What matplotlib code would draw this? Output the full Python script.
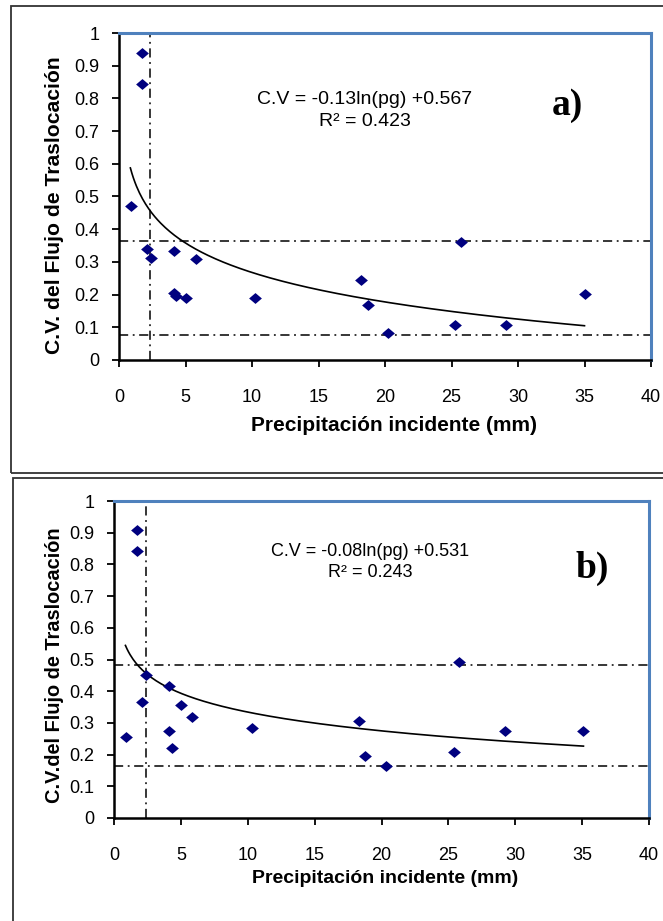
import numpy as np
import matplotlib
matplotlib.use('Agg')
import matplotlib.pyplot as plt
from matplotlib.patches import Rectangle

plt.rcParams['font.family'] = ['Liberation Sans', 'DejaVu Sans']

# panel a) - precipitation (mm) vs C.V.
pg_a = [0.9, 1.7, 1.7, 2.1, 2.4, 4.1, 4.1, 4.3, 5.0, 5.8, 10.2, 18.2, 18.7, 20.2, 25.3, 25.7, 29.1, 35.0]
cv_a = [0.47, 0.94, 0.845, 0.338, 0.312, 0.334, 0.205, 0.195, 0.19, 0.31, 0.19, 0.246, 0.168, 0.082, 0.108, 0.362, 0.106, 0.202]
fit_a = (-0.13, 0.567)
hlines_a = [0.364, 0.077]
vline_a = 2.35
eq_a = ['C.V = -0.13ln(pg) +0.567', 'R² = 0.423']

# panel b)
pg_b = [0.9, 1.7, 1.7, 2.1, 2.4, 4.1, 4.1, 4.3, 5.0, 5.8, 10.3, 18.3, 18.8, 20.3, 25.4, 25.8, 29.2, 35.1]
cv_b = [0.257, 0.909, 0.841, 0.367, 0.452, 0.416, 0.274, 0.221, 0.355, 0.318, 0.284, 0.307, 0.195, 0.163, 0.207, 0.492, 0.275, 0.276]
fit_b = (-0.0855, 0.531)
hlines_b = [0.483, 0.163]
vline_b = 2.37
eq_b = ['C.V = -0.08ln(pg) +0.531', 'R² = 0.243']

x_ticks = [0, 5, 10, 15, 20, 25, 30, 35, 40]
y_ticks = [0, 0.1, 0.2, 0.3, 0.4, 0.5, 0.6, 0.7, 0.8, 0.9, 1]
y_ticklabels = ['0', '0.1', '0.2', '0.3', '0.4', '0.5', '0.6', '0.7', '0.8', '0.9', '1']

W, H = 663, 921
fig = plt.figure(figsize=(W / 100, H / 100), dpi=100)


def fx(px):
    return px / W


def fy(py):
    return 1 - py / H


# outer frames around each panel
fig.patches.append(Rectangle((fx(11), fy(473)), fx(700), 473 / H - 6 / H, transform=fig.transFigure,
                             fill=False, edgecolor='#333333', lw=1.3))
fig.patches.append(Rectangle((fx(13), fy(960)), fx(700), (960 - 478) / H, transform=fig.transFigure,
                             fill=False, edgecolor='#333333', lw=1.3))

diamond = [(-1, 0), (0, 0.85), (1, 0), (0, -0.85), (-1, 0)]
dashdot = (0, (6, 3, 1.2, 3))


def draw_panel(rect, pg, cv, fit, hl, vl, eq, eq_pos, eq_size, tag, tag_pos,
               ylabel, ylab_pos, xlabel, xlab_pos, lab_size, tick_pad_x):
    ax = fig.add_axes(rect)
    ax.set_xlim(0, 40)
    ax.set_ylim(0, 1)
    ax.scatter(pg, cv, marker=diamond, s=85, color='#00007f', zorder=4, linewidths=0)
    xs = np.linspace(min(pg) * 0.95, max(pg), 300)
    ax.plot(xs, fit[0] * np.log(xs) + fit[1], color='black', lw=1.2, zorder=3)
    for h in hl:
        ax.axhline(h, color='black', lw=1.1, linestyle=dashdot, zorder=2)
    ax.axvline(vl, color='black', lw=1.1, linestyle=dashdot, zorder=2)

    ax.set_xticks(x_ticks)
    ax.set_yticks(y_ticks)
    ax.set_yticklabels(y_ticklabels)
    ax.tick_params(axis='both', direction='out', length=5, width=1.3, labelsize=13)
    ax.tick_params(axis='y', pad=9)
    ax.tick_params(axis='x', pad=tick_pad_x)
    for s in ['top', 'right']:
        ax.spines[s].set_color('#4f81bd')
        ax.spines[s].set_linewidth(2.2)
    for s in ['left', 'bottom']:
        ax.spines[s].set_color('black')
        ax.spines[s].set_linewidth(1.8)

    ax.set_ylabel(ylabel, fontsize=lab_size[0], fontweight='bold')
    ax.yaxis.set_label_coords(fx(ylab_pos[0]), fy(ylab_pos[1]), transform=fig.transFigure)
    ax.set_xlabel(xlabel, fontsize=lab_size[1], fontweight='bold')
    ax.xaxis.set_label_coords(fx(xlab_pos[0]), fy(xlab_pos[1]), transform=fig.transFigure)
    ax.xaxis.label.set_va('center')
    ax.yaxis.label.set_va('center')

    fig.text(fx(eq_pos[0]), fy(eq_pos[1]), eq[0], ha='center', va='center', fontsize=eq_size)
    fig.text(fx(eq_pos[0]), fy(eq_pos[1] + 21), eq[1], ha='center', va='center', fontsize=eq_size)
    fig.text(fx(tag_pos[0]), fy(tag_pos[1]), tag, ha='center', va='center', fontsize=27,
             fontweight='bold', family=['Liberation Serif', 'DejaVu Serif'])
    return ax


draw_panel([fx(119), fy(360), fx(651 - 119), (360 - 33) / H], pg_a, cv_a, fit_a, hlines_a, vline_a,
           eq_a, (365, 100), 14, 'a)', (567, 105),
           'C.V. del Flujo de Traslocación', (55, 205),
           'Precipitación incidente (mm)', (394, 425), (15.2, 15), 16)

draw_panel([fx(114), fy(818), fx(649 - 114), (818 - 501) / H], pg_b, cv_b, fit_b, hlines_b, vline_b,
           eq_b, (370, 551), 13, 'b)', (592, 568),
           'C.V.del Flujo de Traslocación', (55, 665),
           'Precipitación incidente (mm)', (385, 878), (14.4, 14), 16)

fig.savefig('out.png', dpi=100)
